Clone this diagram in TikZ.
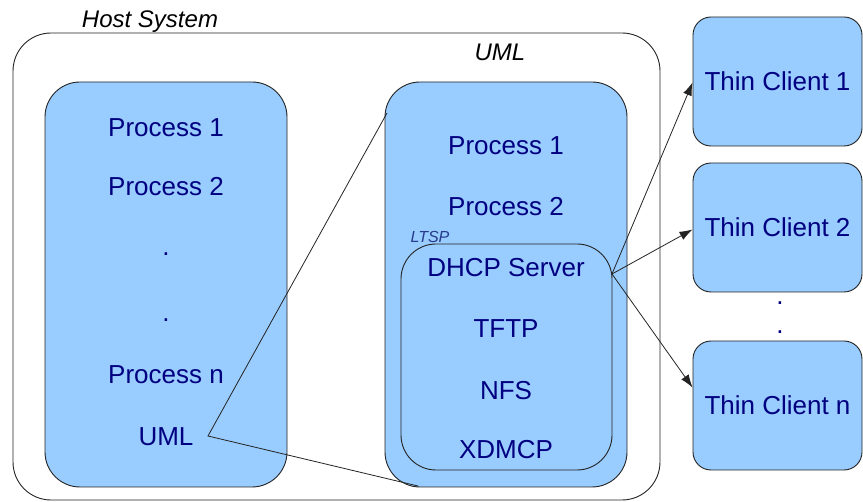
\documentclass[tikz,border=0pt]{standalone}
\usepackage{fontspec}
\setmainfont{Liberation Sans}
\usetikzlibrary{arrows.meta}
\definecolor{boxfill}{RGB}{153,204,255}
\definecolor{navy}{RGB}{0,0,128}
\definecolor{ltspcol}{RGB}{40,60,140}
\definecolor{edgecol}{RGB}{35,35,35}
\tikzset{
 hostbox/.style={draw=edgecol, line width=0.9pt, rounded corners=38pt, minimum width=647pt, minimum height=467pt, inner sep=0pt},
 procbox/.style={draw=edgecol, fill=boxfill, line width=0.9pt, rounded corners=35pt, minimum width=242pt, minimum height=405pt, inner sep=0pt},
 ltspbox/.style={draw=edgecol, line width=0.9pt, rounded corners=35pt, minimum width=211pt, minimum height=226pt, inner sep=0pt},
 clientbox/.style={draw=edgecol, fill=boxfill, line width=0.9pt, rounded corners=18pt, minimum width=169pt, minimum height=129pt, inner sep=0pt, text=navy, font=\fontsize{26}{28}\selectfont},
 lbl/.style={text=navy, font=\fontsize{26}{28}\selectfont, inner sep=1pt},
 title/.style={font=\itshape\fontsize{24}{26}\selectfont, inner sep=1pt},
 smalltitle/.style={text=ltspcol, font=\itshape\fontsize{16}{18}\selectfont, inner sep=0pt},
 link/.style={draw=edgecol, line width=0.8pt},
 arr/.style={link, -{Latex[length=13pt,width=9pt]}},
}
\begin{document}
\begin{tikzpicture}[x=1pt,y=-1pt]
\useasboundingbox (0,0) rectangle (863,502);
% boxes
\node[hostbox] (host) at (336.5,266.5) {};
\node[procbox] (hostproc) at (166,284.5) {};
\node[procbox] (umlbox) at (506,284.5) {};
\node[ltspbox] (ltsp) at (506.5,357) {};
\node[clientbox] (tc1) at (777.5,81.5) {Thin Client 1};
\node[clientbox] (tc2) at (777.5,227.5) {Thin Client 2};
\node[clientbox] (tcn) at (777.5,405.5) {Thin Client n};
% titles
\node[title] (hosttitle) at (150,22) {Host System};
\node[title] (umltitle) at (500,52) {UML};
\node[smalltitle] (ltsptitle) at (430,237) {LTSP};
% host processes
\node[lbl] (hp1) at (166,128) {Process 1};
\node[lbl] (hp2) at (166,187) {Process 2};
\node[lbl] (hd1) at (166,254) {.};
\node[lbl] (hd2) at (166,320) {.};
\node[lbl] (hpn) at (166,375) {Process n};
\node[lbl] (humL) at (166,437) {UML};
% uml processes
\node[lbl] (up1) at (506,146) {Process 1};
\node[lbl] (up2) at (506,207) {Process 2};
\node[lbl] (dhcp) at (506,268) {DHCP Server};
\node[lbl] (tftp) at (506,329) {TFTP};
\node[lbl] (nfs) at (506,391) {NFS};
\node[lbl] (xdmcp) at (506,450) {XDMCP};
% client dots
\node[lbl] (cd1) at (780,303) {.};
\node[lbl] (cd2) at (780,332) {.};
% connectors
\coordinate (umlpt) at (208,436);
\coordinate (umltop) at (387,113);
\coordinate (umlbot) at (418,486);
\coordinate (dhcpout) at (612,274);
\draw[link] (umltop) -- (umlpt) -- (umlbot);
\draw[arr] (dhcpout) -- ([yshift=-1pt]tc1.west);
\draw[arr] (dhcpout) -- ([yshift=-2pt]tc2.west);
\draw[arr] (dhcpout) -- ([yshift=18pt]tcn.west);
\end{tikzpicture}
\end{document}
